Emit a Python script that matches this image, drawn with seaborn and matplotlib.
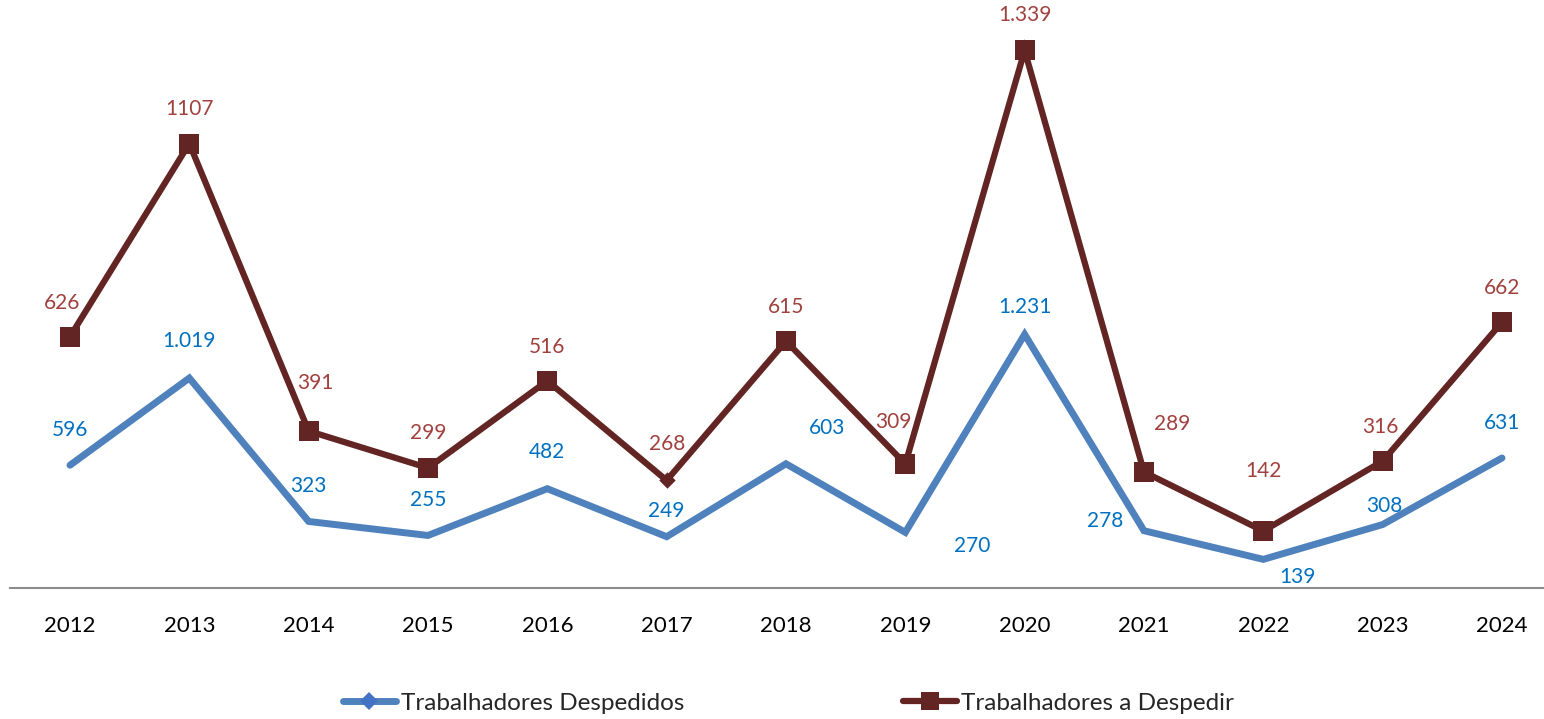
import matplotlib
matplotlib.use("Agg")
import matplotlib.pyplot as plt
from matplotlib.lines import Line2D
import seaborn as sns
import pandas as pd

# data
years = ["2012", "2013", "2014", "2015", "2016", "2017", "2018",
         "2019", "2020", "2021", "2022", "2023", "2024"]
despedidos = [596, 1019, 323, 255, 482, 249, 603, 270, 1231, 278, 139, 308, 631]
a_despedir = [626, 1107, 391, 299, 516, 268, 615, 309, 1339, 289, 142, 316, 662]
despedidos_labels = ["596", "1.019", "323", "255", "482", "249", "603",
                     "270", "1.231", "278", "139", "308", "631"]
a_despedir_labels = ["626", "1107", "391", "299", "516", "268", "615",
                     "309", "1.339", "289", "142", "316", "662"]
# 2017 point of the red series is drawn with a small diamond in the original
red_diamond = [False, False, False, False, False, True, False,
               False, False, False, False, False, False]

# label offsets in pixels (dx, dy), as placed in the original
blue_offsets = [(0, 35), (0, 37), (0, 35), (0, 35), (0, 37), (0, 26), (41, 36),
                (67, -14), (0, 27), (-39, 10), (34, -18), (2, 19), (0, 35)]
red_offsets = [(-8, 34), (0, 35), (7, 48), (0, 35), (0, 34), (0, 36), (0, 34),
               (-12, 42), (0, 35), (28, 48), (0, 60), (-2, 34), (0, 34)]

BLUE_LINE = "#4F81BD"
BLUE_TEXT = "#0070C0"
RED_LINE = "#632523"
RED_TEXT = "#A0413E"

sns.set_style("white")
plt.rcParams["font.family"] = ["Lato", "DejaVu Sans"]

df = pd.DataFrame({
    "idx": range(len(years)),
    "despedidos": despedidos,
    "a_despedir": a_despedir,
    "diamond": red_diamond,
})

fig = plt.figure(figsize=(15.44, 7.19), dpi=100)
ax = fig.add_axes([0.00668, 0.1822, 1.00475, 0.804])
ax2 = ax.twinx()

sns.lineplot(data=df, x="idx", y="despedidos", ax=ax, color=BLUE_LINE,
             linewidth=5, solid_capstyle="round", solid_joinstyle="miter")
sns.lineplot(data=df, x="idx", y="a_despedir", ax=ax2, color=RED_LINE,
             linewidth=4.5, solid_joinstyle="miter")
sns.scatterplot(data=df[~df["diamond"]], x="idx", y="a_despedir", ax=ax2,
                color=RED_LINE, marker="s", s=200, linewidth=0, zorder=3)
sns.scatterplot(data=df[df["diamond"]], x="idx", y="a_despedir", ax=ax2,
                color=RED_LINE, marker="D", s=70, linewidth=0, zorder=3)

ax.set_ylim(0, 2806)
ax2.set_ylim(0, 1440)
ax.set_xlim(-0.5, len(years) - 0.5)

for i, (v, lab) in enumerate(zip(despedidos, despedidos_labels)):
    dx, dy = blue_offsets[i]
    ax.annotate(lab, (i, v), xytext=(dx, dy), textcoords="offset pixels",
                ha="center", va="center", fontsize=15, color=BLUE_TEXT)
for i, (v, lab) in enumerate(zip(a_despedir, a_despedir_labels)):
    dx, dy = red_offsets[i]
    ax2.annotate(lab, (i, v), xytext=(dx, dy), textcoords="offset pixels",
                 ha="center", va="center", fontsize=15, color=RED_TEXT)

ax.set_xticks(range(len(years)))
ax.set_xticklabels(years, fontsize=16, color="black")
ax.tick_params(axis="x", length=0, pad=20)
ax.set_yticks([])
ax2.set_yticks([])
ax.set_xlabel("")
ax.set_ylabel("")
ax2.set_ylabel("")

for a in (ax, ax2):
    for s in ("top", "left", "right", "bottom"):
        a.spines[s].set_visible(False)
ax.spines["bottom"].set_visible(True)
ax.spines["bottom"].set_color("#8C8C8C")
ax.spines["bottom"].set_linewidth(1.5)

handles = [
    Line2D([], [], color=BLUE_LINE, linewidth=5, marker="D", markersize=9,
           markerfacecolor="#4472C4", markeredgewidth=0, solid_capstyle="round"),
    Line2D([], [], color=RED_LINE, linewidth=4.5, marker="s", markersize=13,
           markeredgewidth=0, solid_capstyle="round"),
]
fig.legend(handles, ["Trabalhadores Despedidos", "Trabalhadores a Despedir"],
           loc="center", bbox_to_anchor=(0.5107, 0.022), ncol=2, frameon=False,
           fontsize=17.5, handlelength=2.2, handletextpad=0.2, columnspacing=9.0)

fig.savefig("out.png", dpi=100)
